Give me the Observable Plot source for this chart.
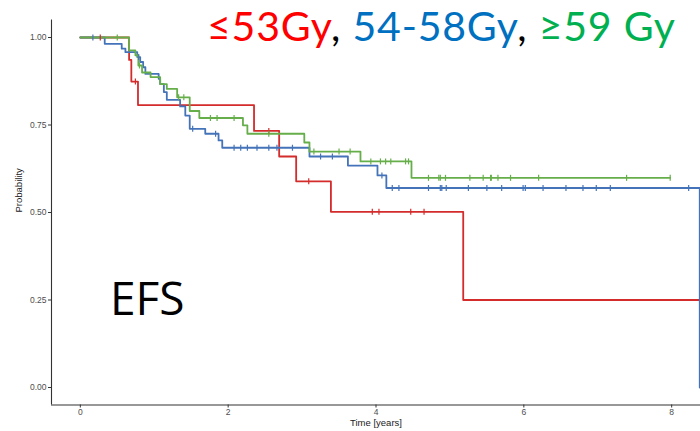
<!DOCTYPE html>
<html><head><meta charset="utf-8">
<script src="https://cdn.jsdelivr.net/npm/d3@7"></script>
<script src="https://cdn.jsdelivr.net/npm/@observablehq/plot@0.6"></script>
<style>
body{margin:0;background:#fff;}
#wrap{position:relative;width:700px;height:431px;overflow:hidden;}
#wrap svg.overlay{position:absolute;left:0;top:0;pointer-events:none;}
</style></head><body><div id="wrap"></div>
<script>
const groups = ["≤53Gy", "54-58Gy", "≥59 Gy"];
const lineColors = ["#d42b2b", "#4473b9", "#66ae4a"];
const legendColors = ["#ff0000", "#0070c0", "#00b050"];

// ≤53Gy
const redTimes = [0.66, 0.69, 0.78, 2.35, 2.69, 2.92, 3.39, 5.18];
const redSurv = [0.936, 0.874, 0.807, 0.733, 0.66, 0.589, 0.502, 0.25];
const redCensor = [0.27, 0.745, 2.55, 3.09, 3.95, 4.04, 4.47, 4.65];
const redEnd = 8.39;

// 54-58Gy
const blueTimes = [0.33, 0.56, 0.61, 0.77, 0.81, 0.85, 0.88, 1.06, 1.08, 1.13, 1.17, 1.35, 1.42, 1.48, 1.69, 1.87, 1.92, 3.10, 3.62, 4.02, 4.14, 8.38];
const blueSurv = [0.982, 0.968, 0.958, 0.944, 0.93, 0.915, 0.896, 0.882, 0.867, 0.844, 0.822, 0.803, 0.777, 0.739, 0.725, 0.706, 0.685, 0.66, 0.634, 0.606, 0.570, 0.0];
const blueCensor = [0.17, 0.79, 1.52, 1.83, 2.08, 2.17, 2.26, 2.39, 2.55, 2.66, 2.87, 3.25, 3.41, 4.08, 4.22, 4.31, 4.71, 4.87, 4.89, 4.95, 5.25, 5.50, 5.70, 5.99, 6.02, 6.26, 6.57, 6.80, 6.98, 7.17, 8.23];
const blueEnd = 8.38;

// ≥59 Gy
const greenTimes = [0.66, 0.745, 0.785, 0.835, 0.95, 1.08, 1.17, 1.31, 1.48, 1.61, 2.20, 2.26, 3.03, 3.10, 3.79, 4.48];
const greenSurv = [0.963, 0.949, 0.92, 0.90, 0.887, 0.867, 0.853, 0.829, 0.79, 0.77, 0.749, 0.725, 0.70, 0.674, 0.646, 0.599];
const greenCensor = [0.5, 0.80, 1.33, 1.40, 1.76, 1.85, 2.08, 2.55, 3.16, 3.50, 3.65, 3.93, 4.06, 4.13, 4.20, 4.40, 4.44, 4.71, 4.85, 4.87, 4.94, 5.27, 5.45, 5.55, 5.56, 5.65, 5.82, 6.20, 7.39, 7.98];
const greenEnd = 7.98;

const xTicks = [0, 2, 4, 6, 8];
const yTicks = [0, 0.25, 0.5, 0.75, 1];
const xDomain = [-0.39, 8.39];
const yDomain = [-0.05, 1.05];

const seriesDefs = [
  {g: groups[0], times: redTimes, surv: redSurv, censor: redCensor, end: redEnd},
  {g: groups[1], times: blueTimes, surv: blueSurv, censor: blueCensor, end: blueEnd},
  {g: groups[2], times: greenTimes, surv: greenSurv, censor: greenCensor, end: greenEnd}
];

const stepPts = [];
const censorPts = [];
for (const s of seriesDefs) {
  stepPts.push({g: s.g, t: 0, p: 1});
  s.times.forEach((t, i) => stepPts.push({g: s.g, t, p: s.surv[i]}));
  stepPts.push({g: s.g, t: s.end, p: s.surv[s.surv.length - 1]});
  const valAt = t => { let v = 1; s.times.forEach((tt, i) => { if (tt <= t) v = s.surv[i]; }); return v; };
  s.censor.forEach(t => censorPts.push({g: s.g, t, p: valAt(t)}));
}

const vtick = {draw(ctx, size) { ctx.moveTo(0, -3); ctx.lineTo(0, 3); }};

const plot = Plot.plot({
  width: 700, height: 431,
  marginLeft: 51, marginRight: 0, marginTop: 19.5, marginBottom: 26.5,
  style: {background: "#fff", fontFamily: "'Liberation Sans', Arial, sans-serif"},
  x: {domain: xDomain, label: null},
  y: {domain: yDomain, label: null},
  color: {domain: groups, range: lineColors},
  marks: [
    Plot.ruleX([xDomain[0]], {stroke: "#333", strokeWidth: 1.1}),
    Plot.ruleY([yDomain[0]], {stroke: "#333", strokeWidth: 1.1}),
    Plot.axisX({ticks: xTicks, tickFormat: d => String(d), tickSize: 3, tickPadding: 1, fontSize: 8.5, color: "#4d4d4d", stroke: "#333", label: null}),
    Plot.axisY({ticks: yTicks, tickFormat: d3.format(".2f"), tickSize: 3, tickPadding: 2, fontSize: 8.5, color: "#4d4d4d", stroke: "#333", label: null}),
    Plot.text(["Time [years]"], {frameAnchor: "bottom", dy: 21, fontSize: 9.5, fill: "#222"}),
    Plot.text(["Probability"], {frameAnchor: "left", dx: -33, rotate: -90, fontSize: 9.5, fill: "#222"}),
    Plot.line(stepPts, {x: "t", y: "p", z: "g", stroke: "g", curve: "step-after", strokeWidth: 1.8}),
    Plot.dot(censorPts, {x: "t", y: "p", stroke: "g", symbol: vtick, r: 3, strokeWidth: 1.2})
  ]
});

const wrap = document.getElementById("wrap");
wrap.appendChild(plot);

// slide annotations
const ov = d3.select(wrap).append("svg").attr("class", "overlay").attr("width", 700).attr("height", 431);
const leg = ov.append("text").attr("x", 207).attr("y", 41)
  .attr("font-family", "Lato, 'Open Sans', sans-serif").attr("font-size", 41).attr("letter-spacing", 0.8);
const parts = [[groups[0], legendColors[0]], [", ", "#000"], [groups[1], legendColors[1]], [", ", "#000"], [groups[2], legendColors[2]]];
parts.forEach(([t, c]) => leg.append("tspan").attr("fill", c).text(t));
ov.append("text").attr("x", 110).attr("y", 315)
  .attr("font-family", "'Open Sans', sans-serif").attr("font-size", 46).attr("fill", "#000").text("EFS");
</script></body></html>
